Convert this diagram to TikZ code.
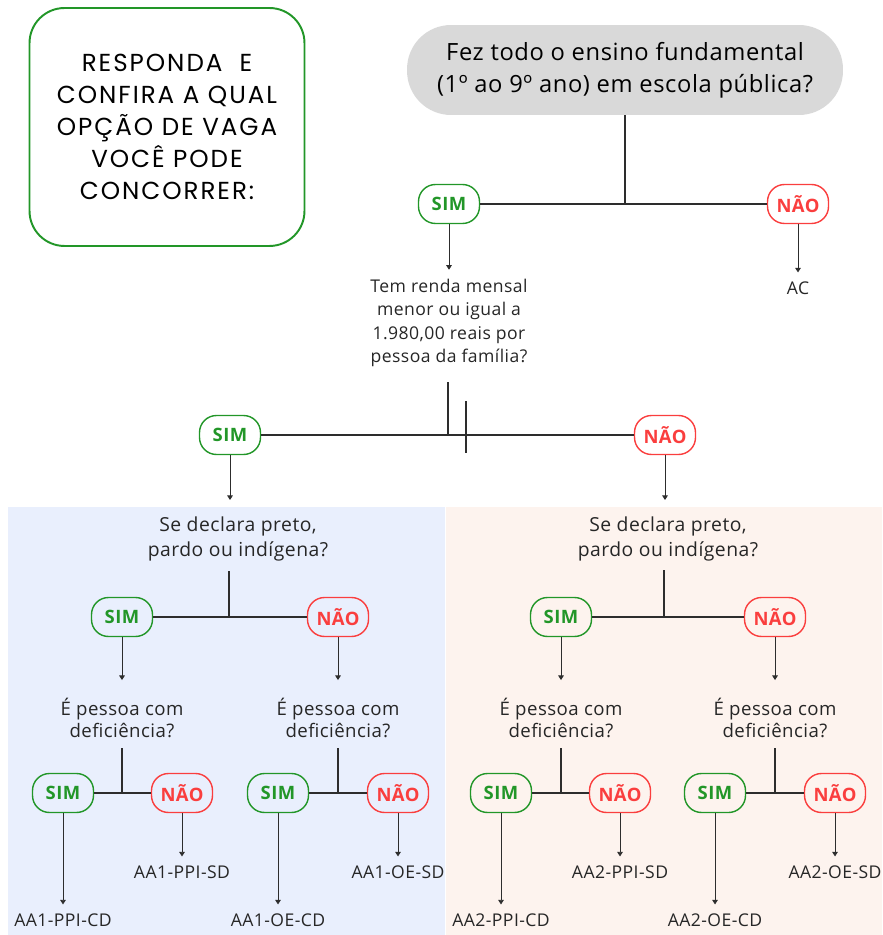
\documentclass[tikz,border=0pt]{standalone}
\usepackage{fontspec}
\setmainfont[LetterSpace=2.5]{Open Sans}
\newfontfamily\titulofont[LetterSpace=8]{Poppins}
\usetikzlibrary{arrows.meta}

\definecolor{verde}{RGB}{34,150,40}
\definecolor{vermelho}{RGB}{250,62,62}
\definecolor{cinza}{RGB}{217,217,217}
\definecolor{azulclaro}{RGB}{233,239,253}
\definecolor{pessego}{RGB}{253,243,238}
\definecolor{linha}{RGB}{45,45,45}

\tikzset{
	sim/.style={draw=verde, line width=0.8pt, rounded corners=0.34cm, minimum width=1.22cm, minimum height=0.78cm, inner sep=0pt, text=verde, font=\bfseries\fontsize{10.5}{12}\selectfont},
	nao/.style={sim, draw=vermelho, text=vermelho},
	pergunta/.style={align=center, text=black!85, inner sep=1pt, font=\fontsize{10}{13.4}\selectfont},
	vaga/.style={text=black!85, inner sep=1pt, font=\fontsize{10}{12}\selectfont},
	liga/.style={draw=linha, line width=0.7pt},
	seta/.style={draw=linha, line width=0.45pt, -{Triangle[length=2.6pt,width=3.2pt]}, shorten >=4pt},
}

\begin{document}
\begin{tikzpicture}[x=0.02cm, y=-0.02cm]
	\useasboundingbox (0,0) rectangle (882,935);
	\fill[azulclaro] (8,507) rectangle (445,935);
	\fill[pessego] (446,507) rectangle (882,935);

	\node[draw=verde, line width=1.1pt, rounded corners=0.7cm, minimum width=5.5cm, minimum height=4.76cm, align=center, font=\titulofont\fontsize{14}{18.2}\selectfont] (titulo) at (167,127) {RESPONDA\ \ E\\CONFIRA A QUAL\\OPÇÃO DE VAGA\\VOCÊ PODE\\CONCORRER:};

	% primeira pergunta
	\node[fill=cinza, rounded corners=0.88cm, minimum width=8.72cm, minimum height=1.8cm, align=center, font=\fontsize{13.5}{18}\selectfont] (q1) at (625,70) {Fez todo o ensino fundamental\\(1º ao 9º ano) em escola pública?};
	\node[sim] (s1) at (449,204) {SIM};
	\node[nao] (n1) at (798,204) {NÃO};
	\coordinate (j1) at (625,204);
	\draw[liga] (q1.south) -- (j1);
	\draw[liga] (s1) -- (n1);
	\node[pergunta] (q2) at (449,323) {Tem renda mensal\\menor ou igual a\\1.980,00 reais por\\pessoa da família?};
	\node[vaga] (ac) at (798,288) {AC};
	\draw[seta] (s1) -- (q2);
	\draw[seta] (n1) -- (ac);

	% renda
	\node[sim] (s2) at (230,435) {SIM};
	\node[nao] (n2) at (665,435) {NÃO};
	\coordinate (t2) at (448,382);
	\coordinate (t2b) at (466,401);
	\coordinate (t2c) at (466,453);
	\draw[liga] (s2) -- (n2);
	\draw[liga] (t2) -- (t2 |- s2);
	\draw[liga] (t2b) -- (t2c);
	\coordinate (fimA) at (230,500);
	\coordinate (fimB) at (665,500);
	\draw[seta, shorten >=0pt] (s2) -- (fimA);
	\draw[seta, shorten >=0pt] (n2) -- (fimB);

	% painel azul
	\node[pergunta, font=\fontsize{11}{14}\selectfont] (q3) at (238,539) {Se declara preto,\\pardo ou indígena?};
	\node[sim] (s3) at (122,617) {SIM};
	\node[nao] (n3) at (338,617) {NÃO};
	\coordinate (t3) at (229,571);
	\draw[liga] (t3) -- (t3 |- s3);
	\draw[liga] (s3) -- (n3);
	\node[pergunta, font=\fontsize{10.6}{12.8}\selectfont] (d3) at (122,718) {É pessoa com\\deficiência?};
	\node[pergunta, font=\fontsize{10.6}{12.8}\selectfont] (d4) at (338,718) {É pessoa com\\deficiência?};
	\draw[seta, shorten >=9pt] (s3) -- (d3);
	\draw[seta, shorten >=9pt] (n3) -- (d4);

	\node[sim] (s4) at (63,793) {SIM};
	\node[nao] (n4) at (182,793) {NÃO};
	\coordinate (t4) at (122,748);
	\draw[liga] (t4) -- (t4 |- s4);
	\draw[liga] (s4) -- (n4);
	\node[sim] (s5) at (278,793) {SIM};
	\node[nao] (n5) at (398,793) {NÃO};
	\coordinate (t5) at (338,748);
	\draw[liga] (t5) -- (t5 |- s5);
	\draw[liga] (s5) -- (n5);

	\node[vaga] (v1) at (63,920) {AA1-PPI-CD};
	\node[vaga] (v2) at (182,872) {AA1-PPI-SD};
	\node[vaga] (v3) at (278,920) {AA1-OE-CD};
	\node[vaga] (v4) at (398,872) {AA1-OE-SD};
	\draw[seta] (s4) -- (v1);
	\draw[seta] (n4) -- (v2);
	\draw[seta] (s5) -- (v3);
	\draw[seta] (n5) -- (v4);

	% painel salmao
	\node[pergunta, font=\fontsize{11}{14}\selectfont] (q4) at (668,539) {Se declara preto,\\pardo ou indígena?};
	\node[sim] (s6) at (561,617) {SIM};
	\node[nao] (n6) at (775,617) {NÃO};
	\coordinate (t6) at (664,570);
	\draw[liga] (t6) -- (t6 |- s6);
	\draw[liga] (s6) -- (n6);
	\node[pergunta, font=\fontsize{10.6}{12.8}\selectfont] (d6) at (561,718) {É pessoa com\\deficiência?};
	\node[pergunta, font=\fontsize{10.6}{12.8}\selectfont] (d7) at (775,718) {É pessoa com\\deficiência?};
	\draw[seta, shorten >=9pt] (s6) -- (d6);
	\draw[seta, shorten >=9pt] (n6) -- (d7);

	\node[sim] (s7) at (501,793) {SIM};
	\node[nao] (n7) at (620,793) {NÃO};
	\coordinate (t7) at (561,748);
	\draw[liga] (t7) -- (t7 |- s7);
	\draw[liga] (s7) -- (n7);
	\node[sim] (s8) at (715,793) {SIM};
	\node[nao] (n8) at (835,793) {NÃO};
	\coordinate (t8) at (775,748);
	\draw[liga] (t8) -- (t8 |- s8);
	\draw[liga] (s8) -- (n8);

	\node[vaga] (v5) at (501,920) {AA2-PPI-CD};
	\node[vaga] (v6) at (620,872) {AA2-PPI-SD};
	\node[vaga] (v7) at (715,920) {AA2-OE-CD};
	\node[vaga] (v8) at (835,872) {AA2-OE-SD};
	\draw[seta] (s7) -- (v5);
	\draw[seta] (n7) -- (v6);
	\draw[seta] (s8) -- (v7);
	\draw[seta] (n8) -- (v8);
\end{tikzpicture}
\end{document}
